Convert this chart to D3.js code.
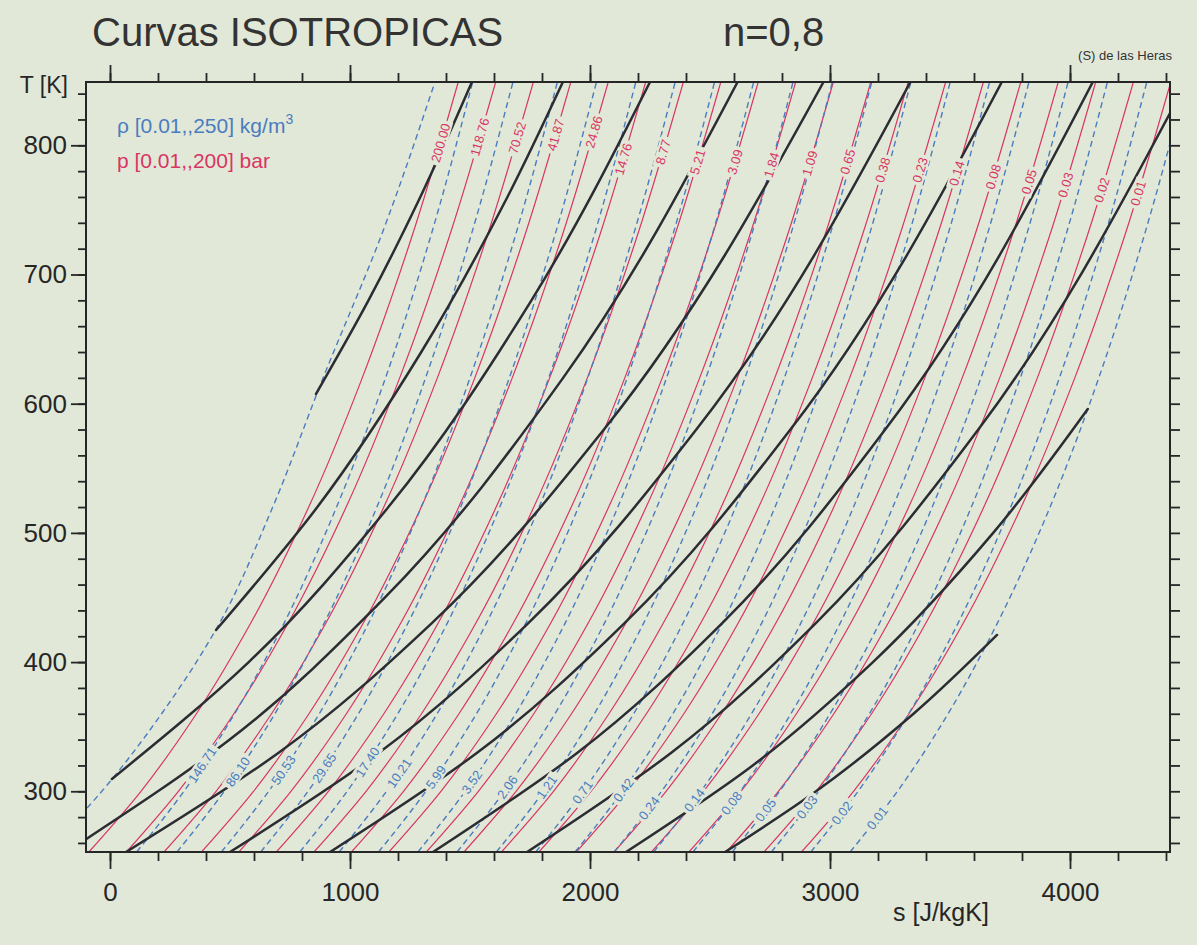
<!DOCTYPE html>
<html>
<head>
<meta charset="utf-8">
<script src="https://cdn.jsdelivr.net/npm/d3@7"></script>
<style>
  html, body { margin: 0; padding: 0; background: #e2e8d8; }
  svg { display: block; }
  text { font-family: "Liberation Sans", Arial, sans-serif; }
</style>
</head>
<body>
<svg id="chart" width="1197" height="945"></svg>
<script>
// ---- Data -------------------------------------------------------------
// Temperatures (K) at which each isobar / isochore is sampled
const isobarT = [253, 300, 360, 430, 520, 620, 730, 849];
const isochoreT = [253, 300, 360, 430, 520, 620, 730, 849];

// Isobars: pressure labels (bar) and entropy s (J/kgK) at isobarT
const isobarLabels = ["200.00","118.76","70.52","41.87","24.86","14.76","8.77","5.21","3.09","1.84",
                      "1.09","0.65","0.38","0.23","0.14","0.08","0.05","0.03","0.02","0.01"];
const isobarS = [
  [-88, 129, 360, 586, 828, 1051, 1259, 1451],
  [68, 285, 516, 742, 984, 1207, 1415, 1607],
  [225, 442, 673, 899, 1141, 1364, 1572, 1764],
  [381, 598, 829, 1055, 1297, 1520, 1728, 1920],
  [537, 754, 985, 1211, 1453, 1676, 1884, 2076],
  [693, 910, 1141, 1367, 1609, 1832, 2040, 2232],
  [850, 1067, 1298, 1524, 1766, 1989, 2197, 2389],
  [1006, 1223, 1454, 1680, 1922, 2145, 2353, 2545],
  [1162, 1379, 1610, 1836, 2078, 2301, 2509, 2701],
  [1318, 1535, 1766, 1992, 2234, 2457, 2665, 2857],
  [1475, 1692, 1923, 2149, 2391, 2614, 2822, 3014],
  [1631, 1848, 2079, 2305, 2547, 2770, 2978, 3170],
  [1787, 2004, 2235, 2461, 2703, 2926, 3134, 3326],
  [1943, 2160, 2391, 2617, 2859, 3082, 3290, 3482],
  [2100, 2317, 2548, 2774, 3016, 3239, 3447, 3639],
  [2256, 2473, 2704, 2930, 3172, 3395, 3603, 3795],
  [2412, 2629, 2860, 3086, 3328, 3551, 3759, 3951],
  [2568, 2785, 3016, 3242, 3484, 3707, 3915, 4107],
  [2725, 2942, 3173, 3399, 3641, 3864, 4072, 4264],
  [2881, 3098, 3329, 3555, 3797, 4020, 4228, 4420]
];
// Temperature at which each isobar label sits
const isobarLabelT = [801.8, 806.4, 805.7, 808.0, 810.3, 789.4, 794.8, 787.1, 787.1, 784.8,
                      786.1, 787.3, 780.9, 780.9, 778.3, 775.7, 771.8, 769.3, 765.4, 762.8];

// Isochores: density labels (kg/m3) and entropy s (J/kgK) at isochoreT
const isochoreLabels = ["250","146.71","86.10","50.53","29.65","17.40","10.21","5.99","3.52","2.06",
                        "1.21","0.71","0.42","0.24","0.14","0.08","0.05","0.03","0.02","0.01"];
const isochoreS = [
  [-267, -34, 215, 456, 678, 888, 1130, 1354],
  [111, 308, 519, 725, 944, 1148, 1337, 1511],
  [279, 476, 687, 892, 1112, 1315, 1504, 1679],
  [464, 661, 872, 1077, 1297, 1500, 1689, 1864],
  [628, 825, 1035, 1241, 1461, 1664, 1853, 2027],
  [791, 988, 1199, 1405, 1624, 1828, 2017, 2191],
  [955, 1152, 1363, 1568, 1788, 1991, 2180, 2355],
  [1119, 1316, 1527, 1732, 1952, 2155, 2344, 2519],
  [1283, 1480, 1690, 1896, 2116, 2319, 2508, 2682],
  [1446, 1643, 1854, 2060, 2279, 2483, 2672, 2846],
  [1610, 1807, 2018, 2223, 2443, 2646, 2835, 3010],
  [1774, 1971, 2182, 2387, 2607, 2810, 2999, 3174],
  [1938, 2135, 2345, 2551, 2771, 2974, 3163, 3337],
  [2101, 2298, 2509, 2715, 2934, 3138, 3327, 3501],
  [2265, 2462, 2673, 2878, 3098, 3301, 3490, 3665],
  [2429, 2626, 2837, 3042, 3262, 3465, 3654, 3829],
  [2593, 2790, 3000, 3206, 3426, 3629, 3818, 3992],
  [2756, 2953, 3164, 3370, 3589, 3793, 3982, 4156],
  [2920, 3117, 3328, 3533, 3753, 3956, 4145, 4320],
  [3084, 3281, 3492, 3697, 3917, 4120, 4309, 4484]
];
// Temperature at which each isochore label sits (no label on the 250 line)
const isochoreLabelT = [null, 320.3, 315.1, 316.4, 318.0, 322.6, 314.1, 311.0, 307.2, 303.3,
                        303.3, 299.4, 301.0, 287.0, 293.2, 290.9, 285.5, 287.8, 283.2, 279.3];

// Polytropic processes n = 0.8 : [s, T] points along each curve
const polytropes = [
  [[858, 607.5], [1077, 680], [1293, 760], [1508, 849]],
  [[442, 424.8], [864, 520], [1297, 640], [1656, 760], [1887, 849]],
  [[8, 309.5], [578, 400], [1160, 520], [1756, 680], [2250, 849]],
  [[-140, 258], [499, 340], [1146, 450], [1888, 620], [2615, 849]],
  [[67, 253], [704, 330], [1340, 430], [2058, 580], [2973, 849]],
  [[500, 253], [1122, 330], [1742, 430], [2443, 580], [3335, 849]],
  [[917, 253], [1531, 330], [2143, 430], [2835, 580], [3716, 849]],
  [[1346, 253], [1949, 330], [2550, 430], [3230, 580], [4095, 849]],
  [[1738, 253], [2340, 330], [2940, 430], [3618, 580], [4417, 825]],
  [[2150, 253], [2678, 320], [3179, 400], [3680, 500], [4074, 595.9]],
  [[2563, 253], [2942, 300], [3348, 360], [3696, 421]]
];

// Axis ticks
const sMajorTicks = [0, 1000, 2000, 3000, 4000];
const sMinorTicks = d3.range(0, 4401, 200);
const TMajorTicks = [300, 400, 500, 600, 700, 800];
const TMinorTicks = d3.range(260, 849, 20);

// ---- Layout -----------------------------------------------------------
const bg = "#e2e8d8";
const ink = "#262626";
const red = "#d93563";
const blue = "#4a7cbf";
const black = "#2c2c33";
const plot = { left: 86, top: 82, right: 1170, bottom: 852 };

const svg = d3.select("#chart");
svg.append("rect").attr("width", 1197).attr("height", 945).attr("fill", bg);

const x = d3.scaleLinear().domain([-100, 4416.7]).range([plot.left, plot.right]);
const y = d3.scaleLinear().domain([253, 849]).range([plot.bottom, plot.top]);

svg.append("defs").append("clipPath").attr("id", "plotClip")
  .append("rect")
  .attr("x", plot.left).attr("y", plot.top)
  .attr("width", plot.right - plot.left).attr("height", plot.bottom - plot.top);

const line = d3.line()
  .x(d => x(d[0]))
  .y(d => y(d[1]))
  .curve(d3.curveMonotoneY);

const curves = svg.append("g").attr("clip-path", "url(#plotClip)");

// Isobars (red, solid)
const isobarPaths = curves.append("g").selectAll("path")
  .data(isobarS)
  .join("path")
  .attr("d", row => line(row.map((s, i) => [s, isobarT[i]])))
  .attr("fill", "none")
  .attr("stroke", red)
  .attr("stroke-width", 1.2);

// Isochores (blue, dashed)
const isochorePaths = curves.append("g").selectAll("path")
  .data(isochoreS)
  .join("path")
  .attr("d", row => line(row.map((s, i) => [s, isochoreT[i]])))
  .attr("fill", "none")
  .attr("stroke", blue)
  .attr("stroke-width", 1.4)
  .attr("stroke-dasharray", "6,4");

// Polytropes (black, thick)
curves.append("g").selectAll("path")
  .data(polytropes)
  .join("path")
  .attr("d", line)
  .attr("fill", "none")
  .attr("stroke", black)
  .attr("stroke-width", 2.5)
  .attr("stroke-linecap", "round");

// ---- Curve labels (knock out the lines underneath) --------------------
function lengthAtY(node, targetY) {
  let lo = 0, hi = node.getTotalLength();
  for (let k = 0; k < 40; k++) {
    const mid = (lo + hi) / 2;
    if (node.getPointAtLength(mid).y > targetY) lo = mid; else hi = mid;
  }
  return lo;
}

function placeLabel(g, node, T, text, color) {
  const len = lengthAtY(node, y(T));
  const p = node.getPointAtLength(len);
  const a = node.getPointAtLength(Math.max(0, len - 8));
  const b = node.getPointAtLength(len + 8);
  const angle = Math.atan2(b.y - a.y, b.x - a.x) * 180 / Math.PI;
  const lg = g.append("g").attr("transform", `translate(${p.x},${p.y}) rotate(${angle})`);
  const t = lg.append("text")
    .attr("text-anchor", "middle")
    .attr("dy", "0.35em")
    .attr("font-size", 13)
    .attr("fill", color)
    .text(text);
  const w = t.node().getComputedTextLength();
  lg.insert("rect", "text")
    .attr("x", -w / 2 - 3).attr("y", -6.5)
    .attr("width", w + 6).attr("height", 13)
    .attr("fill", bg);
}

const labelLayer = svg.append("g").attr("clip-path", "url(#plotClip)");
isobarPaths.each(function (row, i) {
  placeLabel(labelLayer, this, isobarLabelT[i], isobarLabels[i], red);
});
isochorePaths.each(function (row, i) {
  if (isochoreLabelT[i] !== null) placeLabel(labelLayer, this, isochoreLabelT[i], isochoreLabels[i], blue);
});

// ---- Axes -------------------------------------------------------------
function styleAxis(g) {
  g.select(".domain").remove();
  g.selectAll("line").attr("stroke", ink).attr("stroke-width", 1.8);
  g.selectAll("text").attr("fill", ink).attr("font-size", 26)
    .attr("font-family", "'Liberation Sans', Arial, sans-serif");
}

// bottom
svg.append("g").attr("transform", `translate(0,${plot.bottom})`)
  .call(d3.axisBottom(x).tickValues(sMinorTicks).tickSize(9).tickFormat(""))
  .call(styleAxis);
svg.append("g").attr("transform", `translate(0,${plot.bottom})`)
  .call(d3.axisBottom(x).tickValues(sMajorTicks).tickSize(17).tickPadding(14).tickFormat(d3.format("d")))
  .call(styleAxis);
// top
svg.append("g").attr("transform", `translate(0,${plot.top})`)
  .call(d3.axisTop(x).tickValues(sMinorTicks).tickSize(9).tickFormat(""))
  .call(styleAxis);
svg.append("g").attr("transform", `translate(0,${plot.top})`)
  .call(d3.axisTop(x).tickValues(sMajorTicks).tickSize(17).tickFormat(""))
  .call(styleAxis);
// left
svg.append("g").attr("transform", `translate(${plot.left},0)`)
  .call(d3.axisLeft(y).tickValues(TMinorTicks).tickSize(8).tickFormat(""))
  .call(styleAxis);
svg.append("g").attr("transform", `translate(${plot.left},0)`)
  .call(d3.axisLeft(y).tickValues(TMajorTicks).tickSize(15).tickPadding(4).tickFormat(d3.format("d")))
  .call(styleAxis);
// right
svg.append("g").attr("transform", `translate(${plot.right},0)`)
  .call(d3.axisRight(y).tickValues(TMinorTicks).tickSize(10).tickFormat(""))
  .call(styleAxis);

// frame
svg.append("rect")
  .attr("x", plot.left).attr("y", plot.top)
  .attr("width", plot.right - plot.left).attr("height", plot.bottom - plot.top)
  .attr("fill", "none").attr("stroke", ink).attr("stroke-width", 2);

// ---- Titles and legend ------------------------------------------------
svg.append("text").attr("x", 92).attr("y", 46).attr("font-size", 40).attr("fill", "#333")
  .text("Curvas ISOTROPICAS");
svg.append("text").attr("x", 723).attr("y", 46).attr("font-size", 40).attr("fill", "#333")
  .text("n=0,8");
svg.append("text").attr("x", 1172).attr("y", 60).attr("font-size", 13).attr("fill", "#333")
  .attr("text-anchor", "end").text("(S) de las Heras");
svg.append("text").attr("x", 68).attr("y", 93).attr("font-size", 23).attr("fill", ink)
  .attr("text-anchor", "end").text("T [K]");
svg.append("text").attr("x", 893).attr("y", 921).attr("font-size", 25).attr("fill", ink)
  .text("s [J/kgK]");

const rhoLegend = svg.append("text").attr("x", 117).attr("y", 133).attr("font-size", 21).attr("fill", blue);
rhoLegend.append("tspan").text("\u03C1 [0.01,,250] kg/m");
rhoLegend.append("tspan").attr("dy", -9).attr("font-size", 14).text("3");
svg.append("text").attr("x", 117).attr("y", 168).attr("font-size", 21).attr("fill", red)
  .text("p [0.01,,200] bar");
</script>
</body>
</html>
